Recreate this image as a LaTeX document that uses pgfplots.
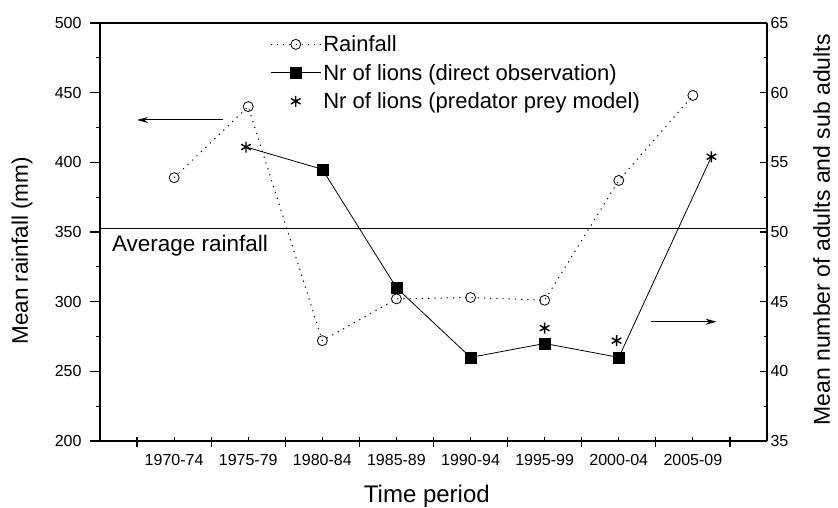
\documentclass[border=0pt]{standalone}
\usepackage{fontspec}
\setmainfont{Liberation Sans}
\usepackage{pgfplots}
\pgfplotsset{compat=1.18}
\usetikzlibrary{arrows.meta}
\begin{document}
\begin{tikzpicture}
\useasboundingbox (-100pt,-66pt) rectangle (738pt,441pt);
\begin{axis}[
  width=667pt, height=418pt, scale only axis,
  xmin=-0.5, xmax=8.5, ymin=200, ymax=500,
  axis x line*=bottom, axis y line*=left,
  ytick={200,250,...,500}, minor y tick num=1,
  xtick={0,...,8},
  xticklabels={1970-74,1975-79,1980-84,1985-89,1990-94,1995-99,2000-04,2005-09},
  x tick label as interval,
  minor x tick num=1,
  tick align=outside, major tick length=10pt, minor tick length=4pt,
  axis line style={line width=1.2pt},
  tick style={line width=1.2pt, black},
  xtick style={yshift=4pt},
  /pgf/number format/assume math mode=true,
  tick label style={font=\fontsize{16}{18}\selectfont},
  yticklabel style={xshift=-5pt},
  ylabel={Mean rainfall (mm)}, xlabel={Time period},
  label style={font=\fontsize{24}{28}\selectfont},
  ylabel style={at={(axis description cs:-0.117,0.455)}, anchor=center, font=\fontsize{22.5}{26}\selectfont},
  xlabel style={at={(axis description cs:0.49,-0.147)}, anchor=base},
  clip=false,
]
\addplot[black, line width=0.9pt] coordinates {(-0.5,352.3) (8.5,352.3)};
\addplot[black, line width=1pt, dash pattern=on 1.2pt off 5pt, mark=o, mark size=5pt,
  mark options={solid, fill=white, line width=0.8pt}]
  coordinates {(0.5,389) (1.5,440) (2.5,272) (3.5,302) (4.5,303) (5.5,301) (6.5,387) (7.5,448)};
\node[anchor=west, font=\fontsize{22.5}{26}\selectfont, inner sep=0pt] at (axis cs:-0.34,340) {Average rainfall};
\draw[-{Stealth[length=11pt,width=6pt]}, line width=1pt] (axis cs:1.16,430.4) -- (axis cs:0,430.4);
\end{axis}
\begin{axis}[
  width=667pt, height=418pt, scale only axis,
  xmin=-0.5, xmax=8.5, ymin=35, ymax=65,
  axis x line*=top, axis y line*=right,
  xtick=\empty, minor xtick={0,0.5,...,8},
  ytick={35,40,...,65}, minor y tick num=1,
  tick align=inside, major tick length=7pt, minor tick length=3.5pt,
  axis line style={line width=1.2pt},
  tick style={line width=1.2pt, black},
  /pgf/number format/assume math mode=true,
  tick label style={font=\fontsize{16}{18}\selectfont},
  yticklabel style={xshift=0pt},
  ylabel={Mean number of adults and sub adults},
  label style={font=\fontsize{23}{27}\selectfont},
  ylabel style={at={(axis description cs:1.082,0.505)}, anchor=center},
  legend style={draw=none, fill=none, at={(axis description cs:0.255,0.975)}, anchor=north west,
    font=\fontsize{22}{25}\selectfont, row sep=7pt, inner sep=0pt},
  legend cell align=left,
  legend image code/.code={\draw[mark repeat=2,mark phase=2,#1] plot coordinates {(0pt,0pt) (25pt,0pt) (50pt,0pt)};},
  clip=false,
]
\addlegendimage{black, line width=1pt, dash pattern=on 1.2pt off 5pt, mark=o, mark size=5pt, mark options={solid, fill=white, line width=0.8pt}}
\addlegendentry{Rainfall}
\addlegendimage{black, line width=0.8pt, mark=square*, mark size=5.5pt}
\addlegendentry{Nr of lions (direct observation)}
\addlegendimage{only marks, black, mark=asterisk, mark size=5.5pt, mark options={line width=1.4pt}}
\addlegendentry{Nr of lions (predator prey model)}
\addplot[black, line width=0.8pt, forget plot] coordinates {(1.47,56.1) (2.5,54.5) (3.5,46) (4.5,41) (5.5,42) (6.5,41) (7.75,55.4)};
\addplot[black, only marks, mark=square*, mark size=5.5pt, forget plot] coordinates {(2.5,54.5) (3.5,46) (4.5,41) (5.5,42) (6.5,41)};
\addplot[black, only marks, mark=asterisk, mark size=5.5pt, mark options={line width=1.4pt}, forget plot] coordinates {(1.47,56.1) (5.5,43.1) (6.47,42.2) (7.75,55.4)};
\draw[-{Stealth[length=11pt,width=6pt]}, line width=1pt] (axis cs:6.94,43.56) -- (axis cs:7.82,43.56);
\end{axis}
\end{tikzpicture}
\end{document}
